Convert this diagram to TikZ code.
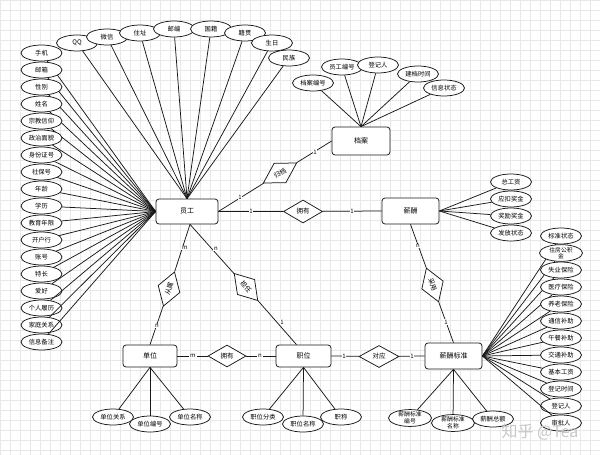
\documentclass[tikz,border=0pt]{standalone}
\usepackage{fontspec}
\setmainfont{Noto Sans CJK SC}
\usetikzlibrary{shapes.geometric}
\begin{document}
\begin{tikzpicture}[x=1pt,y=-1pt,
  ln/.style={line width=0.75pt, draw=black!90},
  attr/.style={ellipse, ln, fill=white, minimum width=41pt, minimum height=16pt, inner sep=0pt, align=center, font=\fontsize{6.3}{6.3}\selectfont},
  attrtwo/.style={attr, minimum width=43pt, font=\fontsize{5.8}{6.6}\selectfont},
  ent/.style={rectangle, rounded corners=3pt, ln, fill=white, font=\fontsize{7}{8}\selectfont},
  rel/.style={diamond, ln, fill=white, inner sep=0pt, minimum width=39pt, minimum height=23pt, font=\fontsize{6.5}{7}\selectfont},
  card/.style={fill=white, inner sep=0.8pt, font=\fontsize{6}{6}\selectfont},
  con/.style={ln}]
\useasboundingbox (0,0) rectangle (600,455);
\draw[step=10pt, black!9, line width=0.4pt] (0,0) grid (600,455);

% entities
\node[ent, minimum width=62pt, minimum height=25pt] (emp) at (187,211.5) {员工};
\node[ent, minimum width=58pt, minimum height=28pt] (da) at (361,141) {档案};
\node[ent, minimum width=57pt, minimum height=26pt] (xc) at (410.5,211) {薪酬};
\node[ent, minimum width=54pt, minimum height=22pt] (dw) at (150,356) {单位};
\node[ent, minimum width=55pt, minimum height=22pt] (zw) at (303.5,356) {职位};
\node[ent, minimum width=57pt, minimum height=26pt] (bz) at (453.5,356) {薪酬标准};

% relations
\node[rel, rotate=31] (r1) at (280,173) {归档};
\node[rel] (r2) at (303,211.5) {拥有};
\node[rel, rotate=72, minimum width=36pt] (r3) at (169,289) {从属};
\node[rel, rotate=-49, minimum width=36pt] (r4) at (246,287) {担任};
\node[rel, rotate=-70, minimum width=36pt] (r5) at (432.5,285) {采用};
\node[rel, minimum width=38pt, minimum height=22pt] (r6) at (227,356) {拥有};
\node[rel, minimum width=40pt, minimum height=22pt] (r7) at (379,356.5) {对应};

% relation connectors
\draw[con] (emp.east) -- (r1);
\draw[con] (r1) -- (da.west);
\draw[con] (emp.east) -- (r2);
\draw[con] (r2) -- (xc.west);
\draw[con] ([xshift=3pt]emp.south) -- (r3);
\draw[con] (r3) -- (dw.north);
\draw[con] ([xshift=3pt]emp.south) -- (r4);
\draw[con] (r4) -- ([xshift=-7pt]zw.north);
\draw[con] (xc.south) -- (r5);
\draw[con] (r5) -- (bz.north);
\draw[con] (dw.east) -- (r6);
\draw[con] (r6) -- (zw.west);
\draw[con] (zw.east) -- (r7);
\draw[con] (r7) -- (bz.west);

% cardinalities
\node[card] (c1) at (240,197) {1};
\node[card] (c2) at (315,152) {1};
\node[card] (c3) at (251,211.5) {1};
\node[card] (c4) at (352,211.5) {1};
\node[card] (c5) at (185,248) {m};
\node[card] (c6) at (157,326) {n};
\node[card] (c7) at (216,249) {n};
\node[card] (c8) at (282,322) {1};
\node[card] (c9) at (418,246) {n};
\node[card] (c10) at (446,322) {1};
\node[card] (c11) at (193,356) {m};
\node[card] (c12) at (260,356) {n};
\node[card] (c13) at (344,356.5) {1};
\node[card] (c14) at (412,356.5) {1};

% employee attributes: left column
\foreach \t [count=\i from 0] in {手机,邮箱,性别,姓名,宗教信仰,政治面貌,身份证号,社保号,年龄,学历,教育年限,开户行,账号,特长,爱好,个人履历,家庭关系,信息备注}{
  \node[attr] (L\i) at (41.5,{53+17*\i}) {\t};
  \draw[con] (L\i) -- (emp.west);
}
% employee attributes: top arc
\foreach \t/\x/\y [count=\i] in {QQ/77/43,微信/107/37,住址/140/33,邮编/174/29,国籍/211/29,籍贯/245/33,生日/272/43,民族/289/58}{
  \node[attr] (T\i) at (\x,\y) {\t};
  \draw[con] (T\i) -- (emp.north);
}
% archive attributes
\foreach \t/\x/\y [count=\i] in {档案编号/313/83,员工编号/342/67,登记人/378/65,建档时间/418/74,信息状态/444/88}{
  \node[attr] (D\i) at (\x,\y) {\t};
  \draw[con] (D\i) -- (da.north);
}
% salary attributes
\foreach \t [count=\i from 0] in {总工资,应扣奖金,奖励奖金,发放状态}{
  \node[attr] (X\i) at (511,{182+17*\i}) {\t};
  \draw[con] (X\i) -- (xc.east);
}
% salary standard attributes
\foreach \t [count=\i from 0] in {标准状态,住房公积金,失业保险,医疗保险,养老保险,通信补助,午餐补助,交通补助,基本工资,登记时间,登记人,审批人}{
  \ifnum\i=1
    \node[attrtwo] (S\i) at (561,{236+17*\i}) {住房公积\\金};
  \else
    \node[attr] (S\i) at (561,{236+17*\i}) {\t};
  \fi
  \draw[con] (S\i) -- (bz.east);
}
% unit attributes
\foreach \t/\x/\y [count=\i] in {单位关系/113/417,单位编号/150/424,单位名称/190/417}{
  \node[attr] (U\i) at (\x,\y) {\t};
  \draw[con] (U\i) -- (dw.south);
}
% position attributes
\foreach \t/\x/\y [count=\i] in {职位分类/263/417,职位名称/303/424,职称/341/417}{
  \node[attr] (P\i) at (\x,\y) {\t};
  \draw[con] (P\i) -- (zw.south);
}
% standard bottom attributes
\node[attrtwo] (B1) at (410,418) {薪酬标准\\编号};
\node[attrtwo] (B2) at (453,423) {薪酬标准\\名称};
\node[attr] (B3) at (493,419) {薪酬总额};
\draw[con] (B1) -- (bz.south);
\draw[con] (B2) -- (bz.south);
\draw[con] (B3) -- (bz.south);

% watermark
\node[text=black!22, font=\fontsize{16}{16}\selectfont] (wm) at (540,432) {知乎 @Tea};
\end{tikzpicture}
\end{document}
